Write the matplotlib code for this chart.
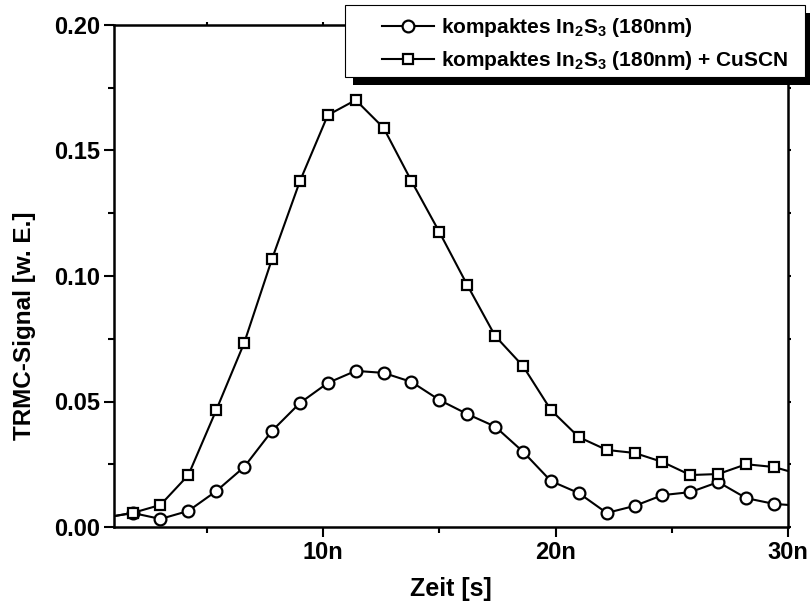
import matplotlib
matplotlib.use('Agg')
import matplotlib.pyplot as plt
from matplotlib.ticker import MultipleLocator, FuncFormatter, NullFormatter
from matplotlib.patches import Rectangle

plt.rcParams['font.family'] = ['Liberation Sans', 'DejaVu Sans']
plt.rcParams['font.weight'] = 'bold'
plt.rcParams['mathtext.fontset'] = 'custom'
plt.rcParams['mathtext.rm'] = 'Liberation Sans:bold'
plt.rcParams['mathtext.bf'] = 'Liberation Sans:bold'
plt.rcParams['mathtext.default'] = 'bf'

# Zeit in ns
zeit = [0.6, 1.8, 3.0, 4.2, 5.4, 6.6, 7.8, 9.0, 10.2, 11.4, 12.6, 13.8, 15.0,
        16.2, 17.4, 18.6, 19.8, 21.0, 22.2, 23.4, 24.6, 25.8, 27.0, 28.2, 29.4, 30.6]
signal_in2s3 = [0.0037, 0.0056, 0.0032, 0.0064, 0.0143, 0.0239, 0.0383, 0.0494,
                0.0574, 0.0622, 0.0614, 0.0578, 0.0506, 0.0450, 0.0400, 0.0300,
                0.0183, 0.0135, 0.0056, 0.0084, 0.0127, 0.0139, 0.0179, 0.0115,
                0.0092, 0.0084]
signal_cuscn = [0.0037, 0.0056, 0.0088, 0.0207, 0.0466, 0.0733, 0.1068, 0.1378,
                0.1641, 0.1701, 0.1590, 0.1378, 0.1175, 0.0964, 0.0761, 0.0641,
                0.0466, 0.0358, 0.0307, 0.0295, 0.0259, 0.0207, 0.0211, 0.0250,
                0.0239, 0.0207]
labels = [r'kompaktes In$_2$S$_3$ (180nm)',
          r'kompaktes In$_2$S$_3$ (180nm) + CuSCN']

fig = plt.figure(figsize=(8.1, 6.06), dpi=100)
ax = fig.add_axes([114/810, 79/606, 674/810, 502/606])

ax.plot(zeit, signal_in2s3, '-o', color='black', lw=1.5, ms=8.5,
        mfc='white', mec='black', mew=1.6, label=labels[0])
ax.plot(zeit, signal_cuscn, '-s', color='black', lw=1.5, ms=7.5,
        mfc='white', mec='black', mew=1.6, label=labels[1])

ax.set_xlim(1, 30)
ax.set_ylim(0, 0.20)
ax.xaxis.set_major_locator(MultipleLocator(10))
ax.xaxis.set_minor_locator(MultipleLocator(5))
ax.yaxis.set_major_locator(MultipleLocator(0.05))
ax.yaxis.set_minor_locator(MultipleLocator(0.025))
ax.xaxis.set_major_formatter(FuncFormatter(lambda v, p: '%dn' % v))
ax.yaxis.set_major_formatter(FuncFormatter(lambda v, p: '%.2f' % v))

for s in ax.spines.values():
    s.set_linewidth(1.8)
ax.tick_params(which='both', direction='out', width=1.5, labelsize=17)
ax.tick_params(which='major', length=7, pad=3)
ax.tick_params(which='minor', length=4)

# kurze Ticks oben und rechts
sec_x = ax.secondary_xaxis('top')
sec_y = ax.secondary_yaxis('right')
for sec, axis in ((sec_x, sec_x.xaxis), (sec_y, sec_y.yaxis)):
    sec.spines[:].set_visible(False)
    axis.set_major_formatter(NullFormatter())
    sec.tick_params(which='both', direction='out', width=1.5, length=2.5)
sec_x.xaxis.set_major_locator(MultipleLocator(10))
sec_x.xaxis.set_minor_locator(MultipleLocator(5))
sec_y.yaxis.set_major_locator(MultipleLocator(0.05))
sec_y.yaxis.set_minor_locator(MultipleLocator(0.025))

ax.set_xlabel('Zeit [s]', fontsize=18, fontweight='bold')
ax.set_ylabel('TRMC-Signal [w. E.]', fontsize=17.5, fontweight='bold')
ax.xaxis.set_label_coords(0.5, -0.10)
ax.yaxis.set_label_coords(-0.116, 0.40)

# Legende mit Rahmen und Schatten wie im Original
leg = ax.legend(loc='upper left', bbox_to_anchor=(382/810, 1 - 16/606),
                bbox_transform=fig.transFigure, borderaxespad=0, borderpad=0,
                fontsize=15, frameon=False, handlelength=2.5,
                handletextpad=0.35, labelspacing=0.5)
leg.set_zorder(6)
frame = Rectangle((345, 606 - 77), 460, 72, transform=None, facecolor='white',
                  edgecolor='black', linewidth=0.8, clip_on=False, zorder=5.6)
shadow = Rectangle((353, 606 - 85), 460, 72, transform=None, facecolor='black',
                   edgecolor='none', clip_on=False, zorder=5.5)
ax.add_patch(shadow)
ax.add_patch(frame)

fig.savefig('out.png', dpi=100)
